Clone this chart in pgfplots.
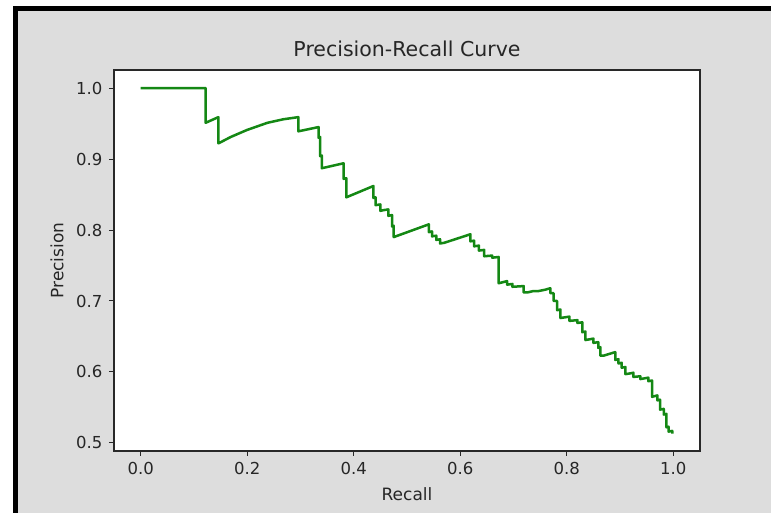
\documentclass[border=0pt]{standalone}
\usepackage{fontspec}
\setmainfont{DejaVu Sans}
\usepackage{pgfplots}
\pgfplotsset{compat=1.18}

\definecolor{figbg}{RGB}{221,221,221}
\definecolor{prgreen}{RGB}{20,136,20}
\definecolor{axgray}{RGB}{40,40,40}

\begin{document}
\begin{tikzpicture}
  % screenshot frame around the figure
  \fill[white] (-114pt,-62pt) rectangle (657pt,451pt);
  \fill[figbg] (-96pt,-62pt) rectangle (657pt,440pt);
  \fill[black] (-101pt,440pt) rectangle (657pt,445pt);
  \fill[black] (-101pt,-62pt) rectangle (-96pt,445pt);

  \begin{axis}[
    scale only axis,
    width=586pt, height=381pt,
    at={(0pt,0pt)}, anchor=south west,
    xmin=-0.05, xmax=1.05,
    ymin=0.4887, ymax=1.0254,
    xtick={0,0.2,0.4,0.6,0.8,1.0},
    ytick={0.5,0.6,0.7,0.8,0.9,1.0},
    xtick pos=bottom, ytick pos=left,
    tick align=outside,
    major tick length=5pt,
    tick style={axgray, line width=1pt},
    axis line style={axgray, line width=1.2pt},
    axis background/.style={fill=white},
    /pgf/number format/assume math mode=true,
    /pgf/number format/fixed,
    /pgf/number format/fixed zerofill,
    /pgf/number format/precision=1,
    ticklabel style={font=\fontsize{16.5}{19}\selectfont, text=black!85},
    xticklabel style={yshift=-3pt},
    yticklabel style={xshift=-3pt},
    title={Precision-Recall Curve},
    title style={font=\fontsize{20.5}{24}\selectfont, text=black!85,
      at={(axis description cs:0.5,1)}, anchor=south, yshift=4pt},
    xlabel={Recall},
    ylabel={Precision},
    label style={font=\fontsize{17}{20}\selectfont, text=black!85},
    xlabel style={at={(axis description cs:0.5,-0.113)}, anchor=center},
    ylabel style={at={(axis description cs:-0.097,0.5)}, anchor=center, rotate=0},
  ]
    \addplot[prgreen, line width=2.5pt, line join=round] coordinates {
      (0.000,1.000) (0.122,1.000) (0.122,0.951) (0.146,0.959) (0.146,0.922)
      (0.169,0.931) (0.200,0.941) (0.238,0.951) (0.268,0.956) (0.296,0.959)
      (0.296,0.939) (0.334,0.945) (0.334,0.930) (0.337,0.931) (0.337,0.904)
      (0.340,0.905) (0.340,0.887) (0.381,0.894) (0.381,0.872) (0.386,0.873)
      (0.386,0.846) (0.437,0.862) (0.437,0.845) (0.441,0.846) (0.441,0.835)
      (0.450,0.836) (0.450,0.827) (0.456,0.828) (0.465,0.829) (0.465,0.820)
      (0.472,0.821) (0.472,0.805) (0.475,0.806) (0.475,0.790) (0.541,0.808)
      (0.541,0.797) (0.547,0.798) (0.547,0.791) (0.555,0.792) (0.555,0.786)
      (0.562,0.787) (0.562,0.781) (0.570,0.782) (0.619,0.794) (0.619,0.784)
      (0.626,0.785) (0.626,0.777) (0.635,0.778) (0.635,0.771) (0.645,0.772)
      (0.645,0.763) (0.660,0.764) (0.660,0.761) (0.672,0.762) (0.672,0.725)
      (0.688,0.728) (0.688,0.723) (0.698,0.724) (0.698,0.720) (0.719,0.721)
      (0.719,0.712) (0.726,0.712) (0.737,0.714) (0.747,0.714) (0.760,0.716)
      (0.769,0.718) (0.769,0.711) (0.775,0.711) (0.775,0.700) (0.782,0.700)
      (0.782,0.687) (0.788,0.688) (0.788,0.676) (0.805,0.678) (0.805,0.672)
      (0.820,0.673) (0.820,0.669) (0.829,0.670) (0.829,0.656) (0.835,0.657)
      (0.835,0.645) (0.850,0.647) (0.850,0.641) (0.859,0.642) (0.859,0.634)
      (0.863,0.635) (0.863,0.623) (0.869,0.623) (0.891,0.628) (0.891,0.617)
      (0.897,0.618) (0.897,0.612) (0.903,0.613) (0.903,0.606) (0.910,0.607)
      (0.910,0.597) (0.919,0.598) (0.925,0.599) (0.925,0.593) (0.938,0.594)
      (0.938,0.590) (0.953,0.592) (0.953,0.587) (0.960,0.588) (0.960,0.565)
      (0.970,0.567) (0.970,0.560) (0.975,0.561) (0.975,0.547) (0.982,0.548)
      (0.982,0.540) (0.987,0.541) (0.987,0.522) (0.991,0.523) (0.991,0.516)
      (0.998,0.517) (0.998,0.513)
    };
  \end{axis}

  \pgfresetboundingbox
  \useasboundingbox (-114pt,-62pt) rectangle (657pt,451pt);
\end{tikzpicture}
\end{document}
